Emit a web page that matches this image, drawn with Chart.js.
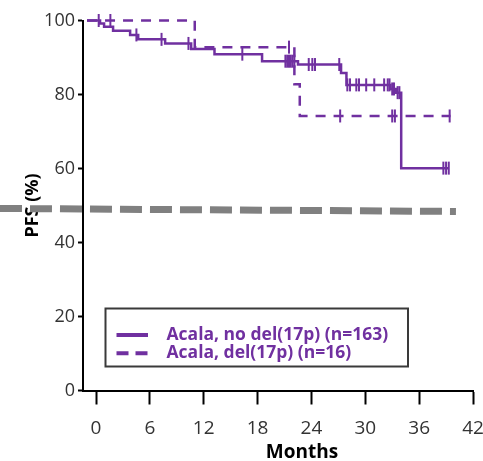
<!DOCTYPE html>
<html>
<head>
<meta charset="utf-8">
<script src="https://cdn.jsdelivr.net/npm/chart.js@4.4.1/dist/chart.umd.min.js"></script>
<style>
  html, body { margin: 0; padding: 0; background: #ffffff; }
  #wrap { width: 483px; height: 461px; position: relative; }
</style>
</head>
<body>
<div id="wrap"><canvas id="pfs" width="483" height="461"></canvas></div>
<script>
// Axis ticks
const monthTicks = [0, 6, 12, 18, 24, 30, 36, 42];
const pfsTicks = [0, 20, 40, 60, 80, 100];

// Kaplan–Meier curve, no del(17p): month of each step and PFS (%) after it
const noDelMonths = [-1.0, 0.45, 0.9, 1.9, 3.8, 4.7, 7.7, 10.6, 13.2, 18.5, 22.5, 27.3, 27.9, 32.8, 33.4, 34.0, 39.3];
const noDelPfs    = [100, 99.2, 98.3, 97.2, 96.1, 94.9, 93.8, 92.3, 90.9, 89.0, 88.1, 85.8, 82.6, 81.5, 80.5, 60.1, 60.1];
// censored observations (months)
const noDelCensored = [0.3, 4.5, 7.3, 10.3, 16.3, 21.1, 21.3, 21.5, 21.7, 21.9, 22.1, 23.7, 24.1, 24.4,
                       27.1, 28.0, 28.3, 29.0, 29.3, 30.1, 31.0, 32.1, 32.5, 32.7, 33.0, 33.2, 33.6, 33.8,
                       38.7, 39.0, 39.3];

// Kaplan–Meier curve, del(17p)
const delMonths = [-1.0, 11.0, 22.1, 22.7, 39.5];
const delPfs    = [100, 92.8, 82.8, 74.2, 74.2];
const delCensored = [1.6, 21.5, 27.2, 33.0, 33.3, 39.4];

// 50% reference line
const refMonths = [-10.7, 40.1];
const refPfs    = [49.2, 48.4];

const purple = '#7030A0';

function curvePoints(months, pfs) {
  return months.map((m, i) => ({ x: m, y: pfs[i] }));
}
// place each censor tick on the curve level in effect at that time
function censorPoints(times, months, pfs) {
  return times.map(t => {
    let k = 0;
    for (let i = 0; i < months.length; i++) if (months[i] <= t) k = i;
    return { x: t, y: pfs[k] };
  });
}

// Boxed legend drawn inside the plot
const boxLegend = {
  id: 'boxLegend',
  afterDraw(chart, args, o) {
    const ctx = chart.ctx;
    const items = chart.data.datasets.filter(d => d.showInLegend);
    ctx.save();
    ctx.setLineDash([]);
    ctx.strokeStyle = o.borderColor;
    ctx.lineWidth = o.borderWidth;
    ctx.strokeRect(o.left, o.top, o.width, o.height);
    ctx.font = o.font;
    ctx.textBaseline = 'middle';
    ctx.textAlign = 'left';
    items.forEach((d, i) => {
      const y = o.top + o.firstRow + i * o.rowGap;
      ctx.beginPath();
      ctx.strokeStyle = d.borderColor;
      ctx.lineWidth = o.sampleWidth;
      ctx.setLineDash(d.borderDash ? o.sampleDash : []);
      ctx.moveTo(o.left + o.sampleStart, y);
      ctx.lineTo(o.left + o.sampleStart + o.sampleLength, y);
      ctx.stroke();
      ctx.fillStyle = d.borderColor;
      ctx.fillText(d.label, o.left + o.textStart, y);
    });
    ctx.restore();
  }
};

// x-axis caption
const axisCaption = {
  id: 'axisCaption',
  afterDraw(chart, args, o) {
    const ctx = chart.ctx;
    const a = chart.chartArea;
    ctx.save();
    ctx.font = o.font;
    ctx.fillStyle = o.color;
    ctx.textAlign = 'center';
    ctx.textBaseline = 'middle';
    ctx.fillText(o.text, a.left + o.along * (a.right - a.left), a.bottom + o.below);
    ctx.restore();
  }
};

new Chart(document.getElementById('pfs'), {
  type: 'line',
  data: {
    datasets: [
      {
        label: 'Acala, no del(17p) (n=163)',
        data: curvePoints(noDelMonths, noDelPfs),
        borderColor: purple, borderWidth: 2.5, stepped: true,
        pointRadius: 0, fill: false, clip: false, showInLegend: true
      },
      {
        label: 'Acala, del(17p) (n=16)',
        data: curvePoints(delMonths, delPfs),
        borderColor: purple, borderWidth: 2.5, borderDash: [10, 8], stepped: true,
        pointRadius: 0, fill: false, clip: false, showInLegend: true
      },
      {
        label: 'no del(17p) censored',
        type: 'scatter',
        data: censorPoints(noDelCensored, noDelMonths, noDelPfs),
        showLine: false, pointStyle: 'line', rotation: 90, pointRadius: 6.5,
        borderColor: purple, pointBorderColor: purple, pointBorderWidth: 2, clip: false
      },
      {
        label: 'del(17p) censored',
        type: 'scatter',
        data: censorPoints(delCensored, delMonths, delPfs),
        showLine: false, pointStyle: 'line', rotation: 90, pointRadius: 6.5,
        borderColor: purple, pointBorderColor: purple, pointBorderWidth: 2, clip: false
      },
      {
        label: '50%',
        data: curvePoints(refMonths, refPfs),
        borderColor: '#808080', borderWidth: 7, borderDash: [22, 8], borderCapStyle: 'butt',
        pointRadius: 0, fill: false, clip: false
      }
    ]
  },
  options: {
    responsive: false,
    animation: false,
    events: [],
    layout: { padding: { top: 20.5, right: 10, bottom: 0, left: 0 } },
    scales: {
      x: {
        type: 'linear',
        min: -1.45,
        max: 42,
        afterBuildTicks: s => { s.ticks = monthTicks.map(v => ({ value: v })); },
        afterFit: s => { s.height = 70.5; s.paddingLeft = 0; s.paddingRight = 0; },
        border: { display: true, color: '#000000', width: 2 },
        grid: { display: true, drawOnChartArea: false, drawTicks: true, tickLength: 14, tickWidth: 2, tickColor: '#000000' },
        ticks: { padding: 13, color: '#333333', font: { family: 'Open Sans', size: 19 }, maxRotation: 0 },
        title: { display: false }
      },
      y: {
        type: 'linear',
        min: 0,
        max: 100,
        afterBuildTicks: s => { s.ticks = pfsTicks.map(v => ({ value: v })); },
        afterFit: s => { s.width = 83; s.paddingTop = 0; s.paddingBottom = 0; },
        border: { display: true, color: '#000000', width: 2 },
        grid: { display: true, drawOnChartArea: false, drawTicks: true, tickLength: 5, tickWidth: 2, tickColor: '#000000' },
        ticks: { padding: 3, color: '#333333', font: { family: 'Open Sans', size: 18 } },
        title: {
          display: true, text: 'PFS (%)', color: '#000000',
          font: { family: 'Open Sans', size: 18, weight: 'bold' },
          padding: { top: 22, bottom: 0 }
        }
      }
    },
    plugins: {
      legend: { display: false },
      tooltip: { enabled: false },
      boxLegend: {
        left: 105.5, top: 308.5, width: 302.5, height: 58,
        borderColor: '#3a3a3a', borderWidth: 2,
        firstRow: 26.5, rowGap: 18.3,
        sampleStart: 11, sampleLength: 31.5, sampleWidth: 4, sampleDash: [12, 7],
        textStart: 61, font: 'bold 17.5px "Open Sans"'
      },
      axisCaption: {
        text: 'Months', font: 'bold 19px "Open Sans"', color: '#000000',
        along: 0.5615, below: 62
      }
    }
  },
  plugins: [boxLegend, axisCaption]
});
</script>
</body>
</html>
